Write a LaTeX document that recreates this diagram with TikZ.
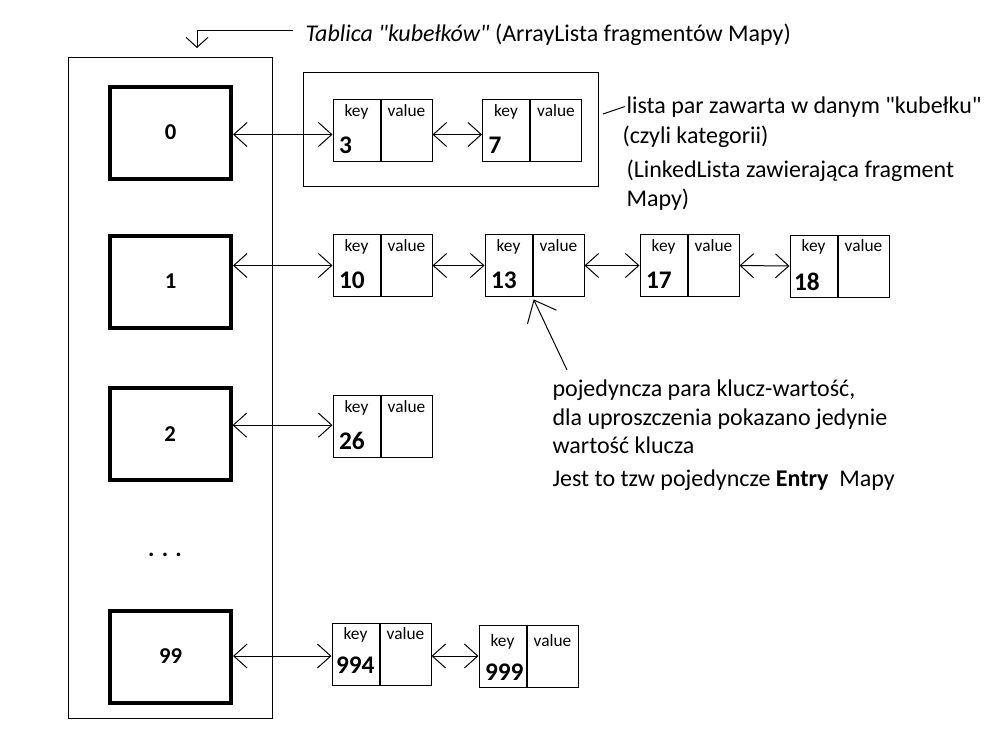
\documentclass[tikz,border=0pt]{standalone}
\usepackage{fontspec}
\setmainfont{Carlito}
\usetikzlibrary{arrows.meta,positioning}

\begin{document}
\begin{tikzpicture}[x=.75pt,y=-.75pt,line width=.75pt,
  bucket/.style={draw,line width=3pt,minimum width=90.75pt,minimum height=69pt,font=\fontsize{17}{20}\selectfont\bfseries},
  keybox/.style={draw,inner sep=0,minimum width=35.25pt,minimum height=46.5pt},
  valbox/.style={draw,inner sep=0,minimum width=38.25pt,minimum height=46.5pt},
  kvlbl/.style={inner sep=0,font=\fontsize{13}{15}\selectfont},
  numlbl/.style={inner sep=0,anchor=base west,font=\fontsize{19}{23}\selectfont\bfseries},
  txt/.style={inner sep=0,anchor=base west,font=\fontsize{18}{22}\selectfont},
  link/.style={{Straight Barb[length=10pt,width=18pt]}-{Straight Barb[length=10pt,width=18pt]}}]
\useasboundingbox (0,0) rectangle (995,736);

% tablica kubelkow
\node[draw,minimum width=153pt,minimum height=495.75pt] (tab) at (170,387.5) {};
\node[bucket] (b0) at (170.5,132.5) {0};
\node[bucket] (b1) at (170.5,281.5) {1};
\node[bucket] (b2) at (170,434) {2};
\node[font=\fontsize{18}{22}\selectfont\bfseries,inner sep=0,anchor=base] (dots) at (165,556) {. . .};
\node[bucket] (b99) at (170.5,656.5) {99};

\node[txt] (title) at (305,41) {\textit{Tablica \textquotedbl kubełków\textquotedbl} (ArrayLista fragmentów Mapy)};
\coordinate (tabtip) at (197,48);
\draw[-{Straight Barb[length=7.5pt,width=16.5pt]}] ([shift={(-9pt,3pt)}]title.west) -| (tabtip);

% kubelek 0
\node[draw,minimum width=221.25pt,minimum height=85.5pt] (grp) at (450.5,129) {};
\node[keybox] (k3) at (356.5,130.5) {};
\node[valbox,right=0pt of k3] (v3) {};
\node[kvlbl,below=3.5pt of k3.north] (kl3) {key};
\node[kvlbl,below=3.5pt of v3.north] (vl3) {value};
\node[numlbl] (n3) at ([shift={(4.5pt,6.75pt)}]k3.south west) {3};

\node[keybox] (k7) at (506,130.5) {};
\node[valbox,right=0pt of k7] (v7) {};
\node[kvlbl,below=3.5pt of k7.north] (kl7) {key};
\node[kvlbl,below=3.5pt of v7.north] (vl7) {value};
\node[numlbl] (n7) at ([shift={(4.5pt,6.75pt)}]k7.south west) {7};

\draw[link] ([yshift=-3pt]b0.east |- k3.west) -- ([yshift=-3pt]k3.west);
\draw[link] ([yshift=-3pt]v3.east) -- ([yshift=-3pt]k7.west);

\node[txt] (lista1) at (626,113) {lista par zawarta w danym \textquotedbl kubełku\textquotedbl};
\node[txt] (lista2) at (622,143) {(czyli kategorii)};
\node[txt] (linked1) at (626,177) {(LinkedLista zawierająca fragment};
\node[txt] (linked2) at (626,206) {Mapy)};
\coordinate (grpend) at (603,114);
\draw (grpend) -- ([xshift=-1pt]lista1.west);

% kubelek 1
\node[keybox] (k10) at (356.5,265.5) {};
\node[valbox,right=0pt of k10] (v10) {};
\node[kvlbl,below=3.5pt of k10.north] (kl10) {key};
\node[kvlbl,below=3.5pt of v10.north] (vl10) {value};
\node[numlbl] (n10) at ([shift={(4.5pt,6.75pt)}]k10.south west) {10};

\node[keybox] (k13) at (508.5,265.5) {};
\node[valbox,right=0pt of k13] (v13) {};
\node[kvlbl,below=3.5pt of k13.north] (kl13) {key};
\node[kvlbl,below=3.5pt of v13.north] (vl13) {value};
\node[numlbl] (n13) at ([shift={(4.5pt,6.75pt)}]k13.south west) {13};

\node[keybox] (k17) at (663.5,265.5) {};
\node[valbox,right=0pt of k17] (v17) {};
\node[kvlbl,below=3.5pt of k17.north] (kl17) {key};
\node[kvlbl,below=3.5pt of v17.north] (vl17) {value};
\node[numlbl] (n17) at ([shift={(4.5pt,6.75pt)}]k17.south west) {17};

\node[keybox] (k18) at (813.5,266) {};
\node[valbox,right=0pt of k18] (v18) {};
\node[kvlbl,below=3.5pt of k18.north] (kl18) {key};
\node[kvlbl,below=3.5pt of v18.north] (vl18) {value};
\node[numlbl] (n18) at ([shift={(3pt,5.5pt)}]k18.south west) {18};

\draw[link] (b1.east |- k10.west) -- (k10.west);
\draw[link] (v10.east) -- (k13.west);
\draw[link] (v13.east) -- (k17.west);
\draw[link] (v17.east) -- (k18.west);

% opis pojedynczego Entry
\coordinate (ptr) at (567,370);
\draw[-{Straight Barb[length=14pt,width=24pt]},shorten >=2pt] (ptr) -- (k13.south east);
\node[txt] (note1) at (552,396) {pojedyncza para klucz-wartość,};
\node[txt] (note2) at (552,425) {dla uproszczenia pokazano jedynie};
\node[txt] (note3) at (552,453) {wartość klucza};
\node[txt] (note4) at (552,486) {Jest to tzw pojedyncze \textbf{Entry}\ \ Mapy};

% kubelek 2
\node[keybox] (k26) at (356.5,426.5) {};
\node[valbox,right=0pt of k26] (v26) {};
\node[kvlbl,below=3.5pt of k26.north] (kl26) {key};
\node[kvlbl,below=3.5pt of v26.north] (vl26) {value};
\node[numlbl] (n26) at ([shift={(4.5pt,6.75pt)}]k26.south west) {26};

\draw[link] ([yshift=1pt]b2.east |- k26.west) -- ([yshift=1pt]k26.west);

% kubelek 99
\node[keybox] (k994) at (355.5,654) {};
\node[valbox,right=0pt of k994] (v994) {};
\node[kvlbl,below=3.5pt of k994.north] (kl994) {key};
\node[kvlbl,below=3.5pt of v994.north] (vl994) {value};
\node[numlbl] (n994) at ([shift={(3pt,9pt)}]k994.south west) {994};

\node[keybox] (k999) at (502.5,656) {};
\node[valbox,right=0pt of k999] (v999) {};
\node[kvlbl,below=7pt of k999.north] (kl999) {key};
\node[kvlbl,below=7pt of v999.north] (vl999) {value};
\node[numlbl] (n999) at ([shift={(4.5pt,5.5pt)}]k999.south west) {999};

\draw[link] ([yshift=-1.5pt]b99.east |- k994.west) -- ([yshift=-1.5pt]k994.west);
\draw[link] ([yshift=-1.5pt]v994.east) -- ([yshift=-1.5pt]v994.east -| k999.west);
\end{tikzpicture}
\end{document}
